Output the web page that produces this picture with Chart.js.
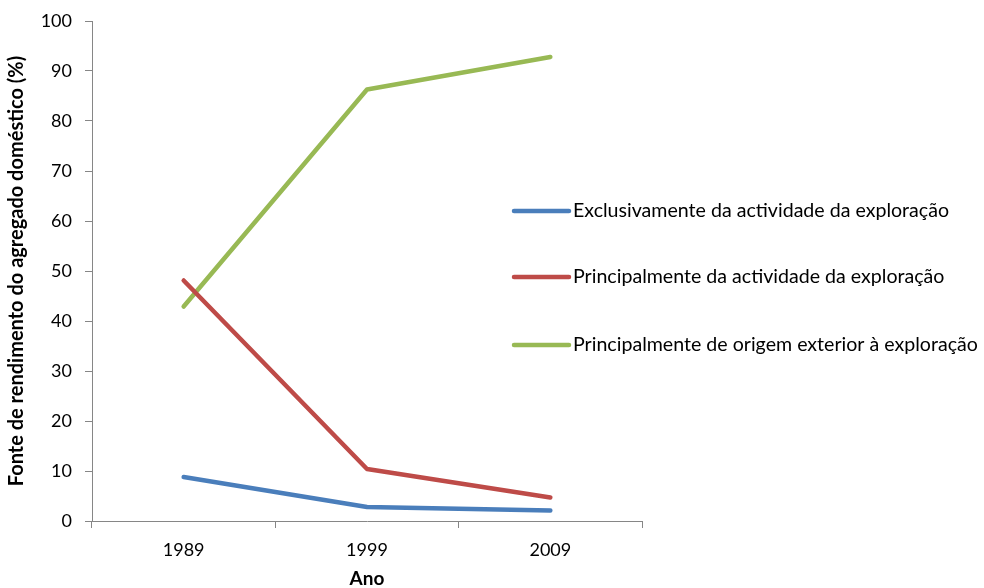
<!DOCTYPE html>
<html><head><meta charset="utf-8">
<script src="https://cdn.jsdelivr.net/npm/chart.js@4"></script>
<style>html,body{margin:0;padding:0;background:#fff}#wrap{width:984px;height:588px}</style>
</head><body><div id="wrap"><canvas id="c" width="984" height="588"></canvas></div>
<script>
const years = ['1989', '1999', '2009'];
const exclusivamenteActividade = [8.8, 2.8, 2.1];
const principalmenteActividade = [48.1, 10.4, 4.7];
const principalmenteExterior = [42.9, 86.3, 92.8];
const seriesLabels = [
  'Exclusivamente da actividade da exploração',
  'Principalmente da actividade da exploração',
  'Principalmente de origem exterior à exploração'
];
const seriesColors = ['#4A7EBB', '#BE4B48', '#98B954'];
const yTitle = 'Fonte de rendimento do agregado doméstico (%)';
const xTitle = 'Ano';

const FONT = 'Lato, "Open Sans", sans-serif';
const axisColor = '#868686';

const legendPlugin = {
  id: 'sideLegend',
  afterDraw(chart) {
    const ctx = chart.ctx;
    const ys = [211, 277, 345];
    ctx.save();
    chart.data.datasets.forEach((ds, i) => {
      const y = ys[i];
      ctx.strokeStyle = ds.borderColor;
      ctx.lineWidth = 4.5;
      ctx.lineCap = 'round';
      ctx.beginPath();
      ctx.moveTo(514, y);
      ctx.lineTo(569, y);
      ctx.stroke();
      ctx.fillStyle = '#000';
      ctx.font = '19.6px ' + FONT;
      ctx.textBaseline = 'middle';
      ctx.textAlign = 'left';
      ctx.fillText(ds.label, 573, y);
    });
    ctx.restore();
  }
};

const datasets = [exclusivamenteActividade, principalmenteActividade, principalmenteExterior].map((d, i) => ({
  label: seriesLabels[i],
  data: d,
  borderColor: seriesColors[i],
  backgroundColor: seriesColors[i],
  borderWidth: 4.5,
  borderCapStyle: 'round',
  borderJoinStyle: 'round',
  pointRadius: 0,
  tension: 0,
  fill: false
}));

new Chart(document.getElementById('c'), {
  type: 'line',
  data: { labels: years, datasets },
  plugins: [legendPlugin],
  options: {
    responsive: false,
    animation: false,
    devicePixelRatio: 1,
    layout: { padding: { left: 0, right: 342, top: 21, bottom: 0 } },
    plugins: { legend: { display: false }, tooltip: { enabled: false } },
    scales: {
      x: {
        type: 'category',
        offset: true,
        grid: { display: true, drawOnChartArea: false, drawTicks: true, tickLength: 7, color: axisColor, offset: true },
        border: { display: true, color: axisColor, width: 1 },
        ticks: { color: '#000', font: { family: FONT, size: 18 }, padding: 11, maxRotation: 0 },
        title: { display: true, text: xTitle, color: '#000', font: { family: FONT, size: 19, weight: 'bold' }, padding: { top: 4, bottom: -2 } },
        afterFit(s) { s.height = 67; s.paddingLeft = 0; s.paddingRight = 0; }
      },
      y: {
        min: 0, max: 100,
        grid: { display: true, drawOnChartArea: false, drawTicks: true, tickLength: 7, color: axisColor },
        border: { display: true, color: axisColor, width: 1 },
        ticks: { stepSize: 10, color: '#000', font: { family: FONT, size: 18 }, padding: 13 },
        title: { display: true, text: yTitle, color: '#000', font: { family: FONT, size: 20, weight: 'bold' }, padding: { top: 5, bottom: 4 } },
        afterFit(s) { s.width = 92; s.paddingTop = 0; s.paddingBottom = 0; }
      }
    }
  }
});
</script>
</body></html>
